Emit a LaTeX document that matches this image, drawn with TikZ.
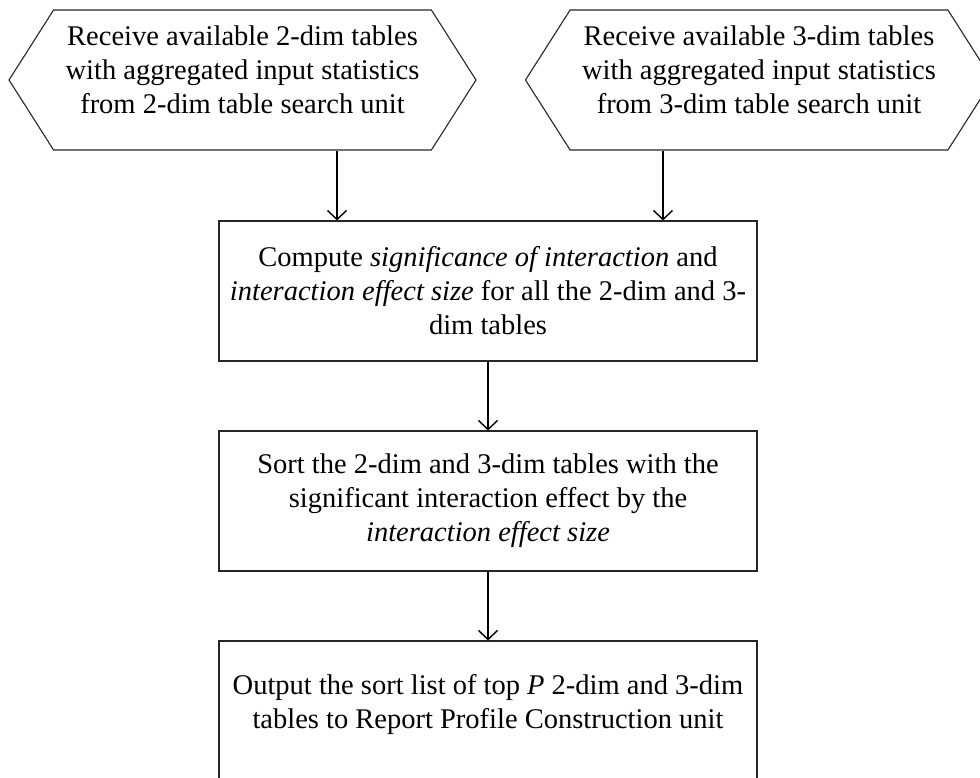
\documentclass[tikz,border=0pt]{standalone}
\usepackage{fontspec}
\setmainfont{Liberation Serif}
\usetikzlibrary{shapes.symbols,arrows.meta}
\begin{document}
\begin{tikzpicture}[x=1pt,y=-1pt,
  every node/.style = {align=center, font=\fontsize{28.5}{34}\selectfont},
  hexbox/.style = {shape=signal, signal to=west and east,
    signal pointer angle=115, draw=black!85, line width=1.1pt,
    minimum width=467pt, minimum height=140pt, inner sep=0pt},
  stepbox/.style = {shape=rectangle, draw=black!85, line width=1.1pt,
    minimum width=538pt, minimum height=140pt, inner sep=0pt},
  flow/.style = {-{Straight Barb[length=9pt,width=19pt]}, line width=1.4pt}]
  \useasboundingbox (0,0) rectangle (980,778);
  \node[hexbox] (recvtwo) at (242.5,80)
    {Receive available 2-dim tables\\ with aggregated input statistics\\
     from 2-dim table search unit\\[-14pt]\mbox{}};
  \node[hexbox] (recvthree) at (759,80)
    {Receive available 3-dim tables\\ with aggregated input statistics\\
     from 3-dim table search unit\\[-14pt]\mbox{}};
  \node[stepbox] (compute) at (488,291)
    {Compute \textit{significance of interaction} and\\
     \textit{interaction effect size} for all the 2-dim and 3-\\ dim tables};
  \node[stepbox] (sort) at (488,501)
    {Sort the 2-dim and 3-dim tables with the\\
     significant interaction effect by the\\ \textit{interaction effect size}};
  \node[stepbox] (output) at (488,711)
    {Output the sort list of top \textit{P} 2-dim and 3-dim\\
     tables to Report Profile Construction unit\\[-14pt]\mbox{}};
  \coordinate (inleft) at (337,0);
  \coordinate (inright) at (663,0);
  \draw[flow] (inleft |- recvtwo.south) -- (inleft |- compute.north);
  \draw[flow] (inright |- recvthree.south) -- (inright |- compute.north);
  \draw[flow] (compute) -- (sort);
  \draw[flow] (sort) -- (output);
\end{tikzpicture}
\end{document}
